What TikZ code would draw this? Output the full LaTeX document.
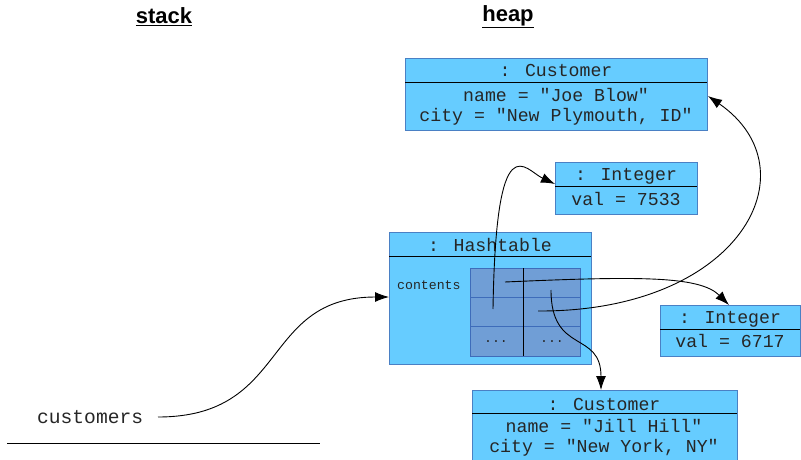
\documentclass[tikz,border=0pt]{standalone}
\usepackage{fontspec}
\setmainfont{Liberation Sans}
\newfontfamily\monof{Liberation Mono}
\usetikzlibrary{arrows.meta}
\definecolor{boxfill}{RGB}{102,204,255}
\definecolor{boxline}{RGB}{74,128,196}
\definecolor{gridfill}{RGB}{112,158,214}
\definecolor{gridline}{RGB}{62,108,186}
\tikzset{
  objbox/.style={draw=boxline, line width=0.9pt, fill=boxfill, rectangle, inner sep=0pt},
  mono/.style={font=\monof\fontsize{18.2}{20}\selectfont, inner sep=0pt, text=black!85},
  small/.style={font=\monof\fontsize{13.2}{14}\selectfont, inner sep=0pt, text=black!85},
  title/.style={font=\bfseries\fontsize{22}{24}\selectfont, inner sep=0pt},
  divider/.style={black, line width=0.9pt},
  ptr/.style={black, line width=0.9pt, -{Latex[length=14pt,width=10pt]}},
  cell/.style={draw=gridline, line width=0.9pt, fill=gridfill, rectangle, inner sep=0pt}
}
\begin{document}
\begin{tikzpicture}[x=1pt,y=-1pt]
\useasboundingbox (0,0) rectangle (801,460);
% titles
\node[title] (stack) at (164,17) {\underline{stack}};
\node[title] (heap) at (508,17) {\underline{heap}};
% stack line
\draw[line width=1pt] (7,443) -- (320,443);
\node[mono, anchor=west, font=\monof\fontsize{19.6}{20}\selectfont] (cust) at (37,417) {customers};
\coordinate (custend) at (158,417);

% Customer Joe
\node[objbox, minimum width=302, minimum height=72, anchor=north west] (joe) at (405,58) {};
\draw[divider] (405,82) -- (707,82);
\node[mono] (joeT) at (556,71) {: Customer};
\node[mono] (joeN) at (556,95) {name = "Joe Blow"};
\node[mono] (joeC) at (556,117) {city = "New Plymouth, ID"};

% Integer 7533
\node[objbox, minimum width=142, minimum height=52, anchor=north west] (int1) at (555,162) {};
\draw[divider] (555,186) -- (697,186);
\node[mono] (int1T) at (626,176) {: Integer};
\node[mono] (int1V) at (626,199) {val = 7533};

% Hashtable
\node[objbox, minimum width=202, minimum height=132, anchor=north west] (ht) at (389,232) {};
\draw[divider] (389,256) -- (591,256);
\node[mono] (htT) at (490,245) {: Hashtable};
\node[small, anchor=west] (htC) at (397,285) {contents};
% grid
\node[cell, minimum width=53, minimum height=29, anchor=north west] (c00) at (470,268) {};
\node[cell, minimum width=57, minimum height=29, anchor=north west] (c01) at (523,268) {};
\node[cell, minimum width=53, minimum height=29, anchor=north west] (c10) at (470,297) {};
\node[cell, minimum width=57, minimum height=29, anchor=north west] (c11) at (523,297) {};
\node[cell, minimum width=53, minimum height=30, anchor=north west] (c20) at (470,326) {};
\node[cell, minimum width=57, minimum height=30, anchor=north west] (c21) at (523,326) {};
\draw[divider] (523,268) -- (523,356);
\node[small] (d0) at (496,342) {...};
\node[small] (d1) at (552,342) {...};

% Integer 6717
\node[objbox, minimum width=140, minimum height=51, anchor=north west] (int2) at (660,305) {};
\draw[divider] (660,329) -- (800,329);
\node[mono] (int2T) at (730,319) {: Integer};
\node[mono] (int2V) at (730,341) {val = 6717};

% Customer Jill
\node[objbox, minimum width=265, minimum height=80, anchor=north west] (jill) at (472,390) {};
\draw[divider] (472,413) -- (737,413);
\node[mono] (jillT) at (604,404) {: Customer};
\node[mono] (jillN) at (604,426) {name = "Jill Hill"};
\node[mono] (jillC) at (604,448) {city = "New York, NY"};

% pointer start points
\coordinate (p1) at (493,309);
\coordinate (p2) at (505,282);
\coordinate (p3) at (538,311);
\coordinate (p4) at (551,290);
\coordinate (htin) at (389,297);
\coordinate (int1in) at (555,184);
\coordinate (int2in) at (729,305);
\coordinate (joein) at (708,96);
\coordinate (jillin) at (601,390);

% arrows
\draw[ptr] (custend) .. controls (290,417) and (260,297) .. (htin);
\draw[ptr] (p1) .. controls (496,120) and (525,170) .. (int1in);
\draw[ptr] (p2) .. controls (640,276) and (700,276) .. (int2in);
\draw[ptr] (p3) .. controls (740,312) and (815,170) .. (joein);
\draw[ptr] (p4) .. controls (551,355) and (601,330) .. (jillin);
\end{tikzpicture}
\end{document}
